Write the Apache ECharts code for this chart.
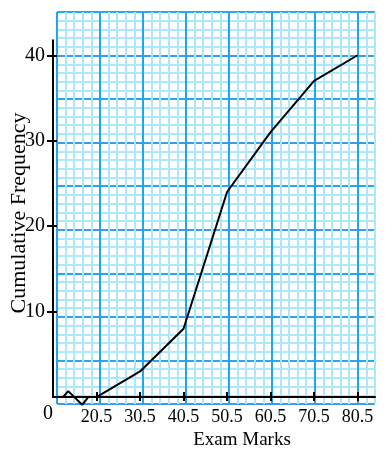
<!DOCTYPE html>
<html>
<head>
<meta charset="utf-8">
<script src="https://cdn.jsdelivr.net/npm/echarts@6/dist/echarts.min.js"></script>
<style>
  html, body { margin: 0; padding: 0; background: #fff; }
  #chart { width: 392px; height: 455px; }
</style>
</head>
<body>
<div id="chart"></div>
<script>
// cumulative frequency polygon
var marks = [20.5, 30.5, 40.5, 50.5, 60.5, 70.5, 80.5];
var cumFreq = [0, 3, 8, 24, 31, 37, 40];
var freqTicks = [10, 20, 30, 40];
// axis break zigzag near the origin
var breakX = [10.5, 12.8, 14.0, 17.2, 18.6, 20.5];
var breakY = [0, 0, 0.7, -0.9, 0, 0];

var serif = '"Liberation Serif", "DejaVu Serif", serif';
var minor = '#ace7fb';
var majorV = '#1ea6ee';
var majorH = '#3a9de6';
var midH = '#2aa8ee';

var chart = echarts.init(document.getElementById('chart'));

function pairs(xs, ys) {
  return xs.map(function (x, i) { return [x, ys[i]]; });
}

var hidden = { show: false };

chart.setOption({
  animation: false,
  grid: [
    { left: 53, right: 17, top: 12, bottom: 51 },     // graph paper
    { left: 53, right: 17, top: 40.3, bottom: 51 }    // axes + data
  ],
  xAxis: [{
    gridIndex: 0, type: 'value', min: 10.5, max: 84.5, interval: 2,
    axisLine: hidden, axisTick: hidden, axisLabel: hidden,
    splitLine: { show: true, lineStyle: { width: 2, color: [majorV, minor, minor, minor, minor] } }
  }, {
    gridIndex: 1, type: 'value', position: 'bottom', min: 10.5, max: 84.5,
    axisLine: { show: true, lineStyle: { color: '#000', width: 2 } },
    axisTick: { show: true, customValues: marks, length: 4, lineStyle: { color: '#000', width: 2 } },
    axisLabel: { customValues: marks, fontFamily: serif, fontSize: 18, color: '#000', margin: 11 },
    splitLine: hidden,
    name: 'Exam Marks', nameLocation: 'middle', nameGap: 27,
    nameTextStyle: { fontFamily: serif, fontSize: 19, color: '#000', padding: [0, 0, 0, 56] }
  }, {
    gridIndex: 1, type: 'value', position: 'bottom', min: 10.5, max: 84.5,
    axisLine: hidden, axisLabel: hidden, splitLine: hidden,
    axisTick: { show: true, inside: true, customValues: marks, length: 5, lineStyle: { color: '#000', width: 2 } }
  }],
  yAxis: [{
    gridIndex: 0, type: 'value', min: 0, max: 45, interval: 1,
    axisLine: hidden, axisTick: hidden, axisLabel: hidden,
    splitLine: { show: true, lineStyle: { width: 2, color: [majorH, minor, minor, minor, minor, midH, minor, minor, minor, minor] } },
    name: 'Cumulative Frequency', nameLocation: 'middle', nameGap: 27,
    nameTextStyle: { fontFamily: serif, fontSize: 22, color: '#000', padding: [0, 10, 0, 0] }
  }, {
    gridIndex: 1, type: 'value', position: 'left', min: 0, max: 41.75,
    axisLine: { show: true, lineStyle: { color: '#000', width: 2 } },
    axisTick: { show: true, customValues: freqTicks, length: 6, lineStyle: { color: '#000', width: 2 } },
    axisLabel: { customValues: freqTicks, fontFamily: serif, fontSize: 20, color: '#000', margin: 8 },
    splitLine: hidden
  }, {
    gridIndex: 1, type: 'value', position: 'left', min: 0, max: 41.75,
    axisLine: hidden, axisLabel: hidden, splitLine: hidden,
    axisTick: { show: true, inside: true, customValues: freqTicks, length: 4, lineStyle: { color: '#000', width: 2 } }
  }],
  graphic: [{
    type: 'text', left: 43, top: 404,
    style: { text: '0', font: '20px ' + serif, fill: '#000' }
  }],
  series: [{
    type: 'line', xAxisIndex: 1, yAxisIndex: 1,
    data: pairs(marks, cumFreq),
    showSymbol: false, symbol: 'none',
    lineStyle: { color: '#000', width: 2 }
  }, {
    type: 'line', xAxisIndex: 1, yAxisIndex: 1, clip: false,
    data: pairs(breakX, breakY),
    showSymbol: false, symbol: 'none',
    lineStyle: { color: '#000', width: 2 }
  }]
});
</script>
</body>
</html>
